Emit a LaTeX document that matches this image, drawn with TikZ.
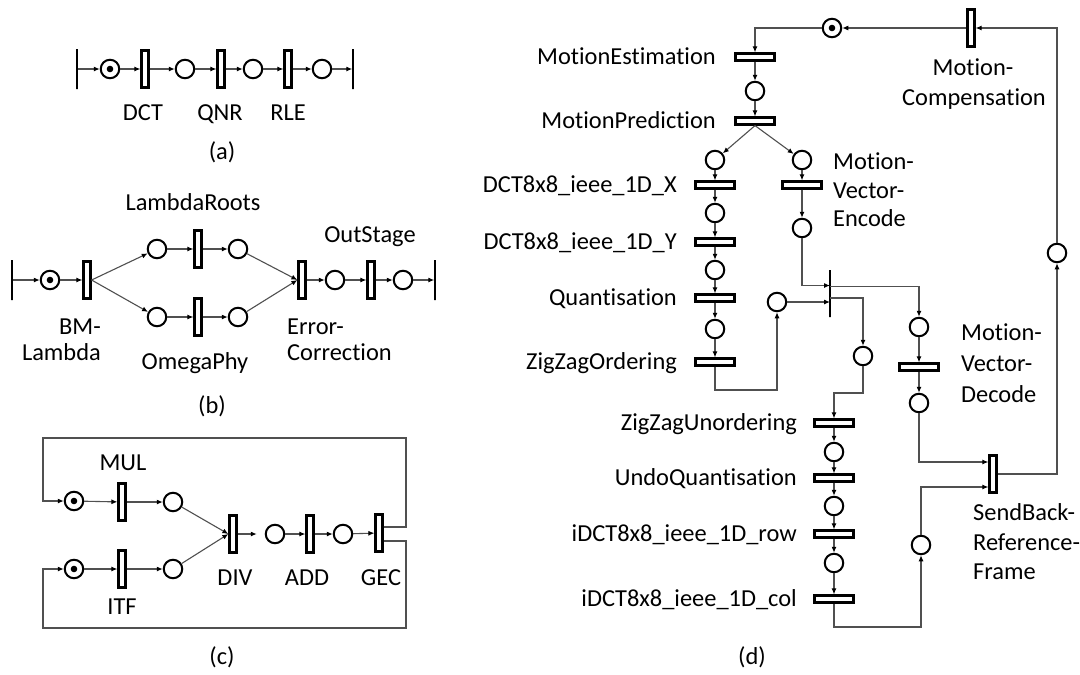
\documentclass[tikz,border=0pt]{standalone}
\usepackage{fontspec}
\setmainfont{Carlito}[Ligatures=NoCommon]
\usetikzlibrary{arrows.meta}
\definecolor{arcgray}{RGB}{80,80,80}
\begin{document}
\begin{tikzpicture}[x=1pt,y=-1pt,
  place/.style={circle,draw=black,line width=2pt,minimum size=18.5pt,inner sep=0pt,fill=white},
  token/.style={place,path picture={\fill[black] (path picture bounding box.center) circle (3.3pt);}},
  vtrans/.style={rectangle,draw=black,line width=2.2pt,minimum width=7pt,minimum height=37pt,inner sep=0pt,fill=white},
  htrans/.style={rectangle,draw=black,line width=2.2pt,minimum width=39pt,minimum height=7pt,inner sep=0pt,fill=white},
  endbar/.style={rectangle,draw=black,line width=1.5pt,minimum width=0pt,minimum height=40pt,inner sep=0pt},
  syncbar/.style={rectangle,draw=black,line width=1.3pt,minimum width=0pt,minimum height=47pt,inner sep=0pt},
  arc/.style={draw=arcgray,line width=1.1pt,-{Latex[length=6pt,width=5pt,black]}},
  lbl/.style={inner sep=0pt,font=\fontsize{24.4}{29}\selectfont,text height=15.4pt,text depth=0pt},
]
\useasboundingbox[fill=white] (0,0) rectangle (1080,675);

% ---------- (a) linear pipeline ----------
\node[endbar] (a0) at (77,69) {};
\node[token]  (pa1) at (110,69) {};
\node[vtrans] (ta1) at (145,69) {};
\node[place]  (pa2) at (185,69) {};
\node[vtrans] (ta2) at (221,69) {};
\node[place]  (pa3) at (253,69) {};
\node[vtrans] (ta3) at (288,69) {};
\node[place]  (pa4) at (322,69) {};
\node[endbar] (a5) at (353,69) {};
\draw[arc] (a0) -- (pa1);
\draw[arc] (pa1) -- (ta1);
\draw[arc] (ta1) -- (pa2);
\draw[arc] (pa2) -- (ta2);
\draw[arc] (ta2) -- (pa3);
\draw[arc] (pa3) -- (ta3);
\draw[arc] (ta3) -- (pa4);
\draw[arc] (pa4) -- (a5);
\node[lbl] (la1) at (143,113) {DCT};
\node[lbl] (la2) at (220,113) {QNR};
\node[lbl] (la3) at (288,113) {RLE};
\node[lbl] (capa) at (222,152) {(a)};

% ---------- (b) fork / join ----------
\node[endbar] (b0) at (12,280) {};
\node[token]  (pb1) at (50,280) {};
\node[vtrans] (tb1) at (87,280) {};
\node[place]  (pb2) at (157,249) {};
\node[vtrans] (tb2) at (198,249) {};
\node[place]  (pb3) at (238,249) {};
\node[place]  (pb4) at (157,317) {};
\node[vtrans] (tb3) at (198,317) {};
\node[place]  (pb5) at (238,317) {};
\node[vtrans] (tb4) at (302,280) {};
\node[place]  (pb6) at (335,280) {};
\node[vtrans] (tb5) at (371,280) {};
\node[place]  (pb7) at (403,280) {};
\node[endbar] (b8) at (435,280) {};
\draw[arc] (b0) -- (pb1);
\draw[arc] (pb1) -- (tb1);
\draw[arc] (tb1.east) -- (pb2);
\draw[arc] (tb1.east) -- (pb4);
\draw[arc] (pb2) -- (tb2);
\draw[arc] (tb2) -- (pb3);
\draw[arc] (pb4) -- (tb3);
\draw[arc] (tb3) -- (pb5);
\draw[arc] (pb3) -- (tb4.west);
\draw[arc] (pb5) -- (tb4.west);
\draw[arc] (tb4) -- (pb6);
\draw[arc] (pb6) -- (tb5);
\draw[arc] (tb5) -- (pb7);
\draw[arc] (pb7) -- (b8);
\node[lbl] (lb1) at (193,203) {LambdaRoots};
\node[lbl] (lb2) at (195,362) {OmegaPhy};
\node[lbl] (lb3) at (370,235) {OutStage};
\node[lbl,anchor=east] (lb4a) at (101,327) {BM-};
\node[lbl,anchor=east] (lb4b) at (101,353) {Lambda};
\node[lbl,anchor=west] (lb5a) at (287,327) {Error-};
\node[lbl,anchor=west] (lb5b) at (287,353) {Correction};
\node[lbl] (capb) at (212,406) {(b)};

% ---------- (c) cyclic net ----------
\node[token]  (pc1) at (74,501) {};
\node[vtrans] (tc1) at (122,502) {};
\node[place]  (pc2) at (173,502) {};
\node[token]  (pc3) at (74,569) {};
\node[vtrans] (tc2) at (122,569) {};
\node[place]  (pc4) at (173,569) {};
\node[vtrans] (tc3) at (233,534) {};
\node[place]  (pc5) at (275,534) {};
\node[vtrans] (tc4) at (310,534) {};
\node[place]  (pc6) at (343,534) {};
\node[vtrans] (tc5) at (379,533) {};
\coordinate (cl1) at (43,438);
\coordinate (cr1) at (406,438);
\coordinate (cl2) at (43,628);
\coordinate (cr2) at (406,628);
\draw[arc] (pc1) -- (tc1);
\draw[arc] (tc1) -- (pc2);
\draw[arc] (pc3) -- (tc2);
\draw[arc] (tc2) -- (pc4);
\draw[arc] (pc2) -- (tc3.west);
\draw[arc] (pc4) -- (tc3.west);
\draw[arc,shorten >=8pt] (tc3) -- (pc5);
\draw[arc] (pc5) -- (tc4);
\draw[arc] (tc4) -- (pc6);
\draw[arc] (pc6) -- (tc5);
\draw[arc] ([yshift=6pt]tc5.east) -| (cr1) -- (cl1) |- (pc1);
\draw[arc] ([yshift=-8pt]tc5.east) -| (cr2) -- (cl2) |- (pc3);
\node[lbl] (lc1) at (123,463) {MUL};
\node[lbl] (lc2) at (122,607) {ITF};
\node[lbl] (lc3) at (235,578) {DIV};
\node[lbl] (lc4) at (307,578) {ADD};
\node[lbl] (lc5) at (381,578) {GEC};
\node[lbl] (capc) at (222,657) {(c)};

% ---------- (d) video encoder ----------
\node[token]  (pd0) at (832,28) {};
\node[vtrans] (tmc) at (971,28) {};
\node[htrans] (td1) at (755,57) {};
\node[place]  (pd1) at (755,91) {};
\node[htrans] (td2) at (755,121) {};
\node[place]  (pd2) at (715,160) {};
\node[place]  (pd3) at (802,160) {};
\node[htrans] (td3) at (715,185) {};
\node[place]  (pd4) at (715,213) {};
\node[htrans] (td4) at (715,242) {};
\node[place]  (pd5) at (715,270) {};
\node[htrans] (td5) at (715,298) {};
\node[place]  (pd6) at (715,329) {};
\node[htrans] (td6) at (715,362) {};
\node[place]  (pd7) at (777,302) {};
\node[htrans] (td7) at (802,185) {};
\node[place]  (pd8) at (802,228) {};
\node[syncbar] (tsy) at (830,293.5) {};
\node[place]  (pd9) at (919,327) {};
\node[htrans] (td8) at (919,367) {};
\node[place]  (pd10) at (919,403) {};
\node[place]  (pd11) at (863,356) {};
\node[htrans] (td9) at (834,423) {};
\node[place]  (pd12) at (834,452) {};
\node[htrans] (td10) at (834,478) {};
\node[place]  (pd13) at (834,506) {};
\node[htrans] (td11) at (834,534) {};
\node[place]  (pd14) at (834,563) {};
\node[htrans] (td12) at (834,599) {};
\node[place]  (pd15) at (921,545) {};
\node[vtrans] (tsb) at (993,474) {};
\node[place]  (pd16) at (1057,253) {};
\coordinate (k1) at (777,390);
\coordinate (k2) at (834,393);
\coordinate (k3) at (921,627);

\draw[arc] (pd0) -| (td1);
\draw[arc] (td1) -- (pd1);
\draw[arc] (pd1) -- (td2);
\draw[arc] (td2.south) -- (pd2);
\draw[arc] (td2.south) -- (pd3);
\draw[arc] (pd2) -- (td3);
\draw[arc] (td3) -- (pd4);
\draw[arc] (pd4) -- (td4);
\draw[arc] (td4) -- (pd5);
\draw[arc] (pd5) -- (td5);
\draw[arc] (td5) -- (pd6);
\draw[arc] (pd6) -- (td6);
\draw[arc] (td6) |- (k1) -- (pd7);
\draw[arc] (pd7) -- (pd7 -| tsy);
\draw[arc] (pd3) -- (td7);
\draw[arc] (td7) -- (pd8);
\draw[arc] (pd8) |- ([yshift=8pt]tsy.center);
\draw[arc] ([yshift=7pt]tsy.center) -| (pd9);
\draw[arc] ([yshift=-4.5pt]tsy.center) -| (pd11);
\draw[arc] (pd9) -- (td8);
\draw[arc] (td8) -- (pd10);
\draw[arc] (pd10) |- ([yshift=12pt]tsb.west);
\draw[arc] (pd11) |- (k2) -- (td9);
\draw[arc] (td9) -- (pd12);
\draw[arc] (pd12) -- (td10);
\draw[arc] (td10) -- (pd13);
\draw[arc] (pd13) -- (td11);
\draw[arc] (td11) -- (pd14);
\draw[arc] (pd14) -- (td12);
\draw[arc] (td12) |- (k3) -- (pd15);
\draw[arc] (pd15) |- ([yshift=-13pt]tsb.west);
\draw[arc] (tsb) -| (pd16);
\draw[arc] (pd16) |- (tmc);
\draw[arc] (tmc) -- (pd0);

\node[lbl,anchor=east] (ld1) at (716,57) {MotionEstimation};
\node[lbl,anchor=east] (ld2) at (716,121) {MotionPrediction};
\node[lbl,anchor=east] (ld3) at (677,185) {DCT8x8\_ieee\_1D\_X};
\node[lbl,anchor=east] (ld4) at (677,242) {DCT8x8\_ieee\_1D\_Y};
\node[lbl,anchor=east] (ld5) at (677,298) {Quantisation};
\node[lbl,anchor=east] (ld6) at (677,362) {ZigZagOrdering};
\node[lbl,anchor=east] (ld7) at (797,423) {ZigZagUnordering};
\node[lbl,anchor=east] (ld8) at (797,478) {UndoQuantisation};
\node[lbl,anchor=east] (ld9) at (797,534) {iDCT8x8\_ieee\_1D\_row};
\node[lbl,anchor=east] (ld10) at (797,599) {iDCT8x8\_ieee\_1D\_col};
\node[lbl] (lmc1) at (973,68) {Motion-};
\node[lbl] (lmc2) at (974,98) {Compensation};
\node[lbl,anchor=west] (lve1) at (833,162) {Motion-};
\node[lbl,anchor=west] (lve2) at (833,191) {Vector-};
\node[lbl,anchor=west] (lve3) at (833,219) {Encode};
\node[lbl,anchor=west] (lvd1) at (961,333) {Motion-};
\node[lbl,anchor=west] (lvd2) at (961,364) {Vector-};
\node[lbl,anchor=west] (lvd3) at (961,395) {Decode};
\node[lbl,anchor=west] (lsb1) at (973,513) {SendBack-};
\node[lbl,anchor=west] (lsb2) at (973,543) {Reference-};
\node[lbl,anchor=west] (lsb3) at (973,572) {Frame};
\node[lbl] (capd) at (752,657) {(d)};
\end{tikzpicture}
\end{document}
